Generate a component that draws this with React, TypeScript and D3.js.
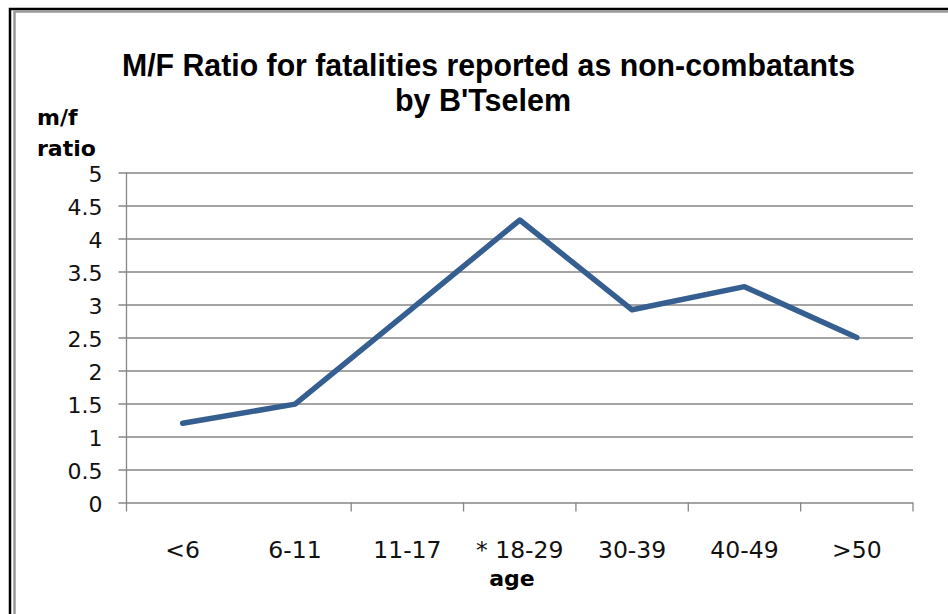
import { useRef, useEffect } from "react";
import * as d3 from "d3";

const categories = ["<6", "6-11", "11-17", "* 18-29", "30-39", "40-49", ">50"];
const ratios = [1.2, 1.49, 2.88, 4.28, 2.92, 3.27, 2.5];
const yTicks = [0, 0.5, 1, 1.5, 2, 2.5, 3, 3.5, 4, 4.5, 5];
const titleLines = ["M/F Ratio for fatalities reported as non-combatants", "by B'Tselem"];
const yLabelLines = ["m/f", "ratio"];
const xTitle = "age";

export default function App() {
    const svgRef = useRef<SVGSVGElement | null>(null);

    useEffect(() => {
        if (!svgRef.current) return;
        const svg = d3.select(svgRef.current);
        svg.selectAll("*").remove();

        const width = 948;
        const height = 614;
        const titleFont = "'Liberation Sans', Arial, sans-serif";
        const font = "'DejaVu Sans', sans-serif";
        const left = 126.5, right = 913, top = 172.5, bottom = 502.5;

        svg.append("rect").attr("width", width).attr("height", height).attr("fill", "#fff");

        // outer frame (black + grey inner line), runs off right/bottom edges
        svg.append("path")
            .attr("d", `M10,${height + 5} V9 H${width + 5}`)
            .attr("fill", "none").attr("stroke", "#000").attr("stroke-width", 2.5);
        svg.append("path")
            .attr("d", `M14.5,${height + 5} V11.5 H${width + 5}`)
            .attr("fill", "none").attr("stroke", "#999").attr("stroke-width", 2.5);

        const x = d3.scaleBand().domain(categories).range([left, right]);
        const y = d3.scaleLinear().domain([0, 5]).range([bottom, top]);

        // horizontal gridlines + y ticks
        const yAxis = svg.append("g")
            .attr("transform", `translate(${left},0)`)
            .call(
                d3.axisLeft(y)
                    .tickValues(yTicks)
                    .tickSize(-(right - left))
                    .tickSizeOuter(0)
                    .tickFormat(d => String(d))
            );
        yAxis.select(".domain").remove();
        yAxis.selectAll(".tick line")
            .attr("x1", -8)
            .attr("stroke", "#868686")
            .attr("stroke-width", 1.3);
        yAxis.selectAll(".tick text")
            .attr("x", -24)
            .attr("dy", "0.42em")
            .attr("font-family", font)
            .attr("font-size", 22)
            .attr("fill", "#111");

        // vertical axis line
        svg.append("line")
            .attr("x1", left).attr("x2", left)
            .attr("y1", top).attr("y2", bottom + 9)
            .attr("stroke", "#868686").attr("stroke-width", 1.3);

        // x tick marks at band boundaries (the reference skips the second one)
        const bounds = categories.map(c => x(c)!).concat([right]);
        svg.append("g")
            .selectAll("line")
            .data(bounds.filter((_, i) => i !== 1 && i !== 0))
            .enter()
            .append("line")
            .attr("x1", d => d).attr("x2", d => d)
            .attr("y1", bottom).attr("y2", bottom + 9)
            .attr("stroke", "#868686").attr("stroke-width", 1.3);

        // x labels
        svg.append("g")
            .selectAll("text")
            .data(categories)
            .enter()
            .append("text")
            .attr("x", d => x(d)! + x.bandwidth() / 2)
            .attr("y", 558)
            .attr("text-anchor", "middle")
            .attr("font-family", font)
            .attr("font-size", 23.5)
            .attr("fill", "#111")
            .text(d => d);

        // line
        const line = d3.line<number>()
            .x((_, i) => x(categories[i])! + x.bandwidth() / 2)
            .y(d => y(d));
        svg.append("path")
            .datum(ratios)
            .attr("d", line)
            .attr("fill", "none")
            .attr("stroke", "#365F91")
            .attr("stroke-width", 5.5)
            .attr("stroke-linejoin", "round")
            .attr("stroke-linecap", "round");

        // title (tall, slightly condensed)
        const titleLens = [733, 176];
        svg.append("g")
            .selectAll("text")
            .data(titleLines)
            .enter()
            .append("text")
            .attr("x", (_, i) => (i === 0 ? 122 : 395))
            .attr("y", (_, i) => 76 + i * 35)
            .attr("textLength", (_, i) => titleLens[i])
            .attr("lengthAdjust", "spacingAndGlyphs")
            .attr("font-family", titleFont)
            .attr("font-weight", "bold")
            .attr("font-size", 32)
            .attr("fill", "#000")
            .text(d => d);

        // y label
        svg.append("g")
            .selectAll("text")
            .data(yLabelLines)
            .enter()
            .append("text")
            .attr("x", 37)
            .attr("y", (_, i) => 125 + i * 31)
            .attr("font-family", font)
            .attr("font-weight", "bold")
            .attr("font-size", 22)
            .attr("fill", "#000")
            .text(d => d);

        // x title
        svg.append("text")
            .attr("x", 512)
            .attr("y", 586)
            .attr("text-anchor", "middle")
            .attr("font-family", font)
            .attr("font-weight", "bold")
            .attr("font-size", 22)
            .attr("fill", "#000")
            .text(xTitle);
    }, []);

    return (
        <svg ref={svgRef} width={948} height={614}
            style={{ position: "absolute", left: 0, top: 0, display: "block" }} />
    );
}
